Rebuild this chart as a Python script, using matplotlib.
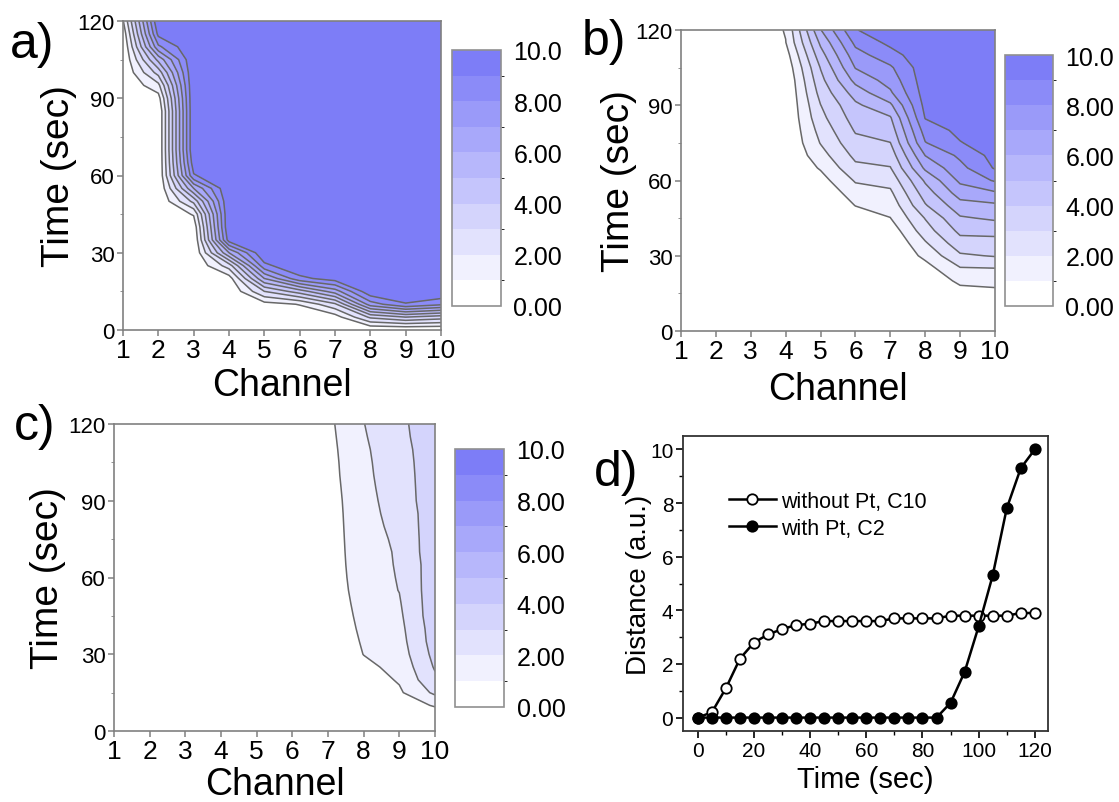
import numpy as np
import matplotlib.pyplot as plt
from matplotlib.colors import ListedColormap, BoundaryNorm
from matplotlib.ticker import MultipleLocator

plt.rcParams['font.family'] = ['Liberation Sans', 'DejaVu Sans']

channels = [1, 2, 3, 4, 5, 6, 7, 8, 9, 10]
times = [0, 5, 10, 15, 20, 25, 30, 35, 40, 45, 50, 55, 60,
         65, 70, 75, 80, 85, 90, 95, 100, 105, 110, 115, 120]

# distance (a.u.) per channel (one row per channel, one value per time step)
dist_a = [
    [0] * 23 + [0.3, 0.9],
    [0] * 18 + [0.55, 1.7, 3.4, 5.3, 7.8, 9.3, 10.0],
    [0] * 8 + [0.3, 1.1, 3.3, 6.0, 8.9, 9.6] + [10] * 11,
    [0] * 4 + [0.5, 2.5, 6.0, 9.5] + [10] * 17,
    [0] * 2 + [0.6, 3.0, 6.0, 8.7] + [10] * 19,
    [0, 0.3, 1.05, 4.5, 8.7] + [10] * 20,
    [0, 0.5, 2.8, 6.5, 9.5] + [10] * 20,
    [0, 3.2, 7.5, 9.8] + [10] * 21,
    [0, 4.0, 8.9] + [10] * 22,
    [0, 3.5, 8.2] + [10] * 22,
]

dist_b = [
    [0] * 25,
    [0] * 25,
    [0] * 25,
    [0] * 20 + [0.05, 0.25, 0.55, 0.97, 1.08],
    [0] * 11 + [0.1, 0.6, 1.1, 1.6, 2.05, 2.35, 2.7, 2.98, 3.35, 3.7, 4.05, 4.6, 5.2, 5.95],
    [0] * 9 + [0.45, 1.02, 1.55, 2.1, 2.75, 3.25, 3.7, 4.1, 4.45, 4.8, 5.45, 6.3, 7.05,
               7.6, 8.25, 8.95],
    [0] * 8 + [0.4, 0.98, 1.35, 1.8, 2.35, 2.95, 3.45, 3.98, 4.45, 4.9, 5.8, 6.85, 7.4,
               7.85, 8.6, 9.25, 9.6],
    [0] * 4 + [0.1, 0.6, 1.25, 1.88, 2.55, 3.05, 3.9, 4.5, 5.15, 6.2, 7.02, 7.95, 8.45,
               9.05, 9.3, 9.45, 9.55, 9.6, 9.7, 9.75, 9.8],
    [0] * 3 + [0.55, 1.25, 1.93, 2.85, 3.6, 4.25, 4.88, 5.6, 6.45, 7.2, 7.7, 8.2, 8.95,
               9.25, 9.45, 9.55, 9.6, 9.7, 9.75, 9.8, 9.85, 9.9],
    [0] * 3 + [0.7, 1.35, 1.99, 3.07, 3.6, 4.35, 5.15, 5.8, 6.85, 8.1, 9.1, 9.35, 9.5,
               9.6, 9.65, 9.7, 9.75, 9.8, 9.85, 9.9, 9.95, 10.0],
]

dist_c = [
    [0] * 25,
    [0] * 25,
    [0] * 25,
    [0] * 25,
    [0] * 25,
    [0] * 25,
    [0] * 6 + [0.05, 0.12, 0.18, 0.22, 0.26, 0.3, 0.32, 0.34, 0.36, 0.38, 0.4, 0.42,
               0.46, 0.52, 0.58, 0.62, 0.67, 0.72, 0.77],
    [0] * 3 + [0.2, 0.47, 0.75, 1.02, 1.12, 1.22, 1.32, 1.42, 1.52, 1.6, 1.66, 1.7, 1.73,
               1.76, 1.79, 1.81, 1.83, 1.85, 1.86, 1.88, 1.93, 1.98],
    [0, 0.05, 0.4, 0.85, 1.1, 1.3, 1.5, 1.62, 1.72, 1.82, 1.92, 2.02, 2.05, 2.07, 2.08,
     2.12, 2.18, 2.23, 2.28, 2.33, 2.38, 2.44, 2.52, 2.6, 2.68],
    [0, 0.2, 1.1, 2.2, 2.8, 3.1, 3.3, 3.45, 3.5, 3.6, 3.6, 3.6, 3.6, 3.6, 3.7,
     3.7, 3.7, 3.7, 3.8, 3.8, 3.8, 3.8, 3.8, 3.9, 3.9],
]

# panel d uses channel 2 of a (with Pt) and channel 10 of c (without Pt)
with_pt_c2 = dist_a[1]
without_pt_c10 = dist_c[9]

levels = [0, 1, 2, 3, 4, 5, 6, 7, 8, 9, 10]
cbar_ticks = [0, 2, 4, 6, 8, 10]
cbar_labels = ['0.00', '2.00', '4.00', '6.00', '8.00', '10.0']

blue = np.array([0.49, 0.49, 0.97])
band_colors = [1 - (1 - blue) * i / 9 for i in range(10)]
cmap = ListedColormap(band_colors)

W, H = 1119, 803
fig = plt.figure(figsize=(W / 100, H / 100), dpi=100)


def rect(left, top, right, bottom):
    return [left / W, 1 - bottom / H, (right - left) / W, (bottom - top) / H]


def contour_panel(ax_box, cb_box, dist, letter, letter_xy, ylab_x, xlab_y):
    ax = fig.add_axes(rect(*ax_box))
    z = np.array(dist).T
    # own norm per panel so the colorbars do not reset each other
    norm = BoundaryNorm(levels, cmap.N)
    cf = ax.contourf(channels, times, z, levels=levels, cmap=cmap, norm=norm)
    ax.contour(channels, times, z, levels=levels[1:-1], colors='#686868', linewidths=1.1)
    ax.set_xlim(1, 10)
    ax.set_ylim(0, 120)
    ax.set_xticks(channels)
    ax.set_yticks([0, 30, 60, 90, 120])
    ax.yaxis.set_minor_locator(MultipleLocator(15))
    ax.tick_params(axis='x', direction='out', length=4, width=1.1, color='#808080',
                   labelsize=19, pad=2)
    ax.tick_params(axis='y', direction='out', length=4, width=1.1, color='#808080',
                   labelsize=16, pad=2)
    ax.tick_params(axis='y', which='minor', direction='out', length=2.5, color='#808080')
    for s in ax.spines.values():
        s.set_color('#808080')
        s.set_linewidth(1.2)
    ax.set_xlabel('Channel', fontsize=27)
    ax.set_ylabel('Time (sec)', fontsize=28)
    ax.xaxis.set_label_coords(0.5, xlab_y)
    ax.yaxis.set_label_coords(ylab_x, 0.5)
    ax.xaxis.label.set_va('top')

    cax = fig.add_axes(rect(*cb_box))
    cb = fig.colorbar(cf, cax=cax)
    cb.set_ticks(cbar_ticks, labels=cbar_labels)
    cb.ax.tick_params(length=0, labelsize=18, pad=9)
    cb.outline.set_edgecolor('#909090')
    cb.outline.set_linewidth(1.2)

    fig.text(letter_xy[0] / W, 1 - letter_xy[1] / H, letter, fontsize=36,
             va='baseline', ha='left')
    return ax


contour_panel((123, 22, 441, 331), (452, 51, 501, 307), dist_a, 'a)', (10, 58), -0.145, -0.12)
contour_panel((681, 31, 995, 332), (1005, 56, 1053, 307), dist_b, 'b)', (582, 55), -0.14, -0.133)
contour_panel((114, 425, 435, 732), (455, 450, 504, 708), dist_c, 'c)', (14, 440), -0.15, -0.115)

# panel d
axd = fig.add_axes(rect(683, 437, 1048, 732))
axd.plot(times, without_pt_c10, '-o', color='black', lw=1.8, ms=7.5,
         mfc='white', mec='black', mew=1.3, label='without Pt, C10')
axd.plot(times, with_pt_c2, '-o', color='black', lw=1.8, ms=7.5,
         mfc='black', mec='black', mew=1.3, label='with Pt, C2')
axd.set_xlim(-5.3, 124.7)
axd.set_ylim(-0.5, 10.5)
axd.set_xticks([0, 20, 40, 60, 80, 100, 120])
axd.set_yticks([0, 2, 4, 6, 8, 10])
axd.xaxis.set_minor_locator(MultipleLocator(10))
axd.yaxis.set_minor_locator(MultipleLocator(1))
axd.tick_params(which='major', direction='out', length=5, width=1.2, labelsize=15, pad=2)
axd.tick_params(which='minor', direction='out', length=3, width=1.0)
for s in axd.spines.values():
    s.set_color('#333333')
    s.set_linewidth(1.3)
axd.set_xlabel('Time (sec)', fontsize=21)
axd.set_ylabel('Distance (a.u.)', fontsize=20)
axd.xaxis.set_label_coords(0.5, -0.115)
axd.xaxis.label.set_va('top')
axd.yaxis.set_label_coords(-0.085, 0.5)
axd.legend(loc='upper left', bbox_to_anchor=(0.125, 0.815), frameon=False, fontsize=15.5,
           handlelength=2.2, handletextpad=0.25, labelspacing=0.28, borderpad=0,
           borderaxespad=0, numpoints=1)
fig.text(594 / W, 1 - 486 / H, 'd)', fontsize=36, va='baseline', ha='left')

fig.savefig('out.png', dpi=100)
